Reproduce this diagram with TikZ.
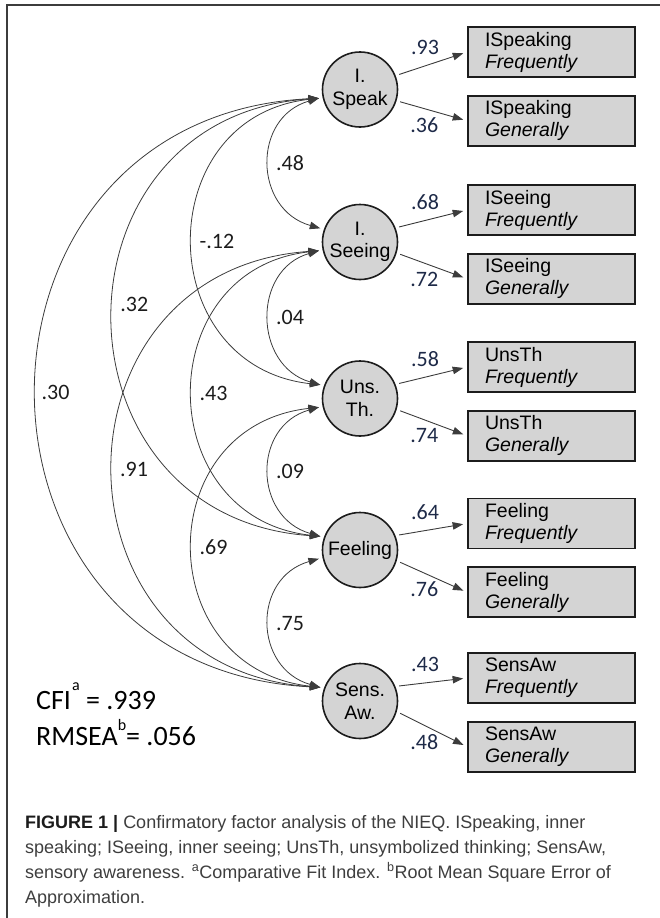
\documentclass[tikz,border=0pt]{standalone}
\usepackage{fontspec}
\setmainfont{Liberation Sans}
\newfontfamily\numfont{Carlito}
\usetikzlibrary{
  arrows.meta,
  positioning,
}
\definecolor{shade}{RGB}{212,212,212}
\definecolor{edge}{RGB}{28,28,28}
\definecolor{wire}{RGB}{60,60,60}
\definecolor{navy}{RGB}{30,42,72}
\definecolor{capgray}{RGB}{62,62,62}
\newcommand{\fitsup}[2]{\raisebox{#1}{\fontsize{16}{16}\selectfont #2}}
\tikzset{
  x = 1pt,
  y = -1pt,
  factor/.style={
    circle, draw=edge, fill=shade, line width=1.6pt, minimum size=75pt,
    inner sep=0pt, outer sep=4.5pt, align=center,
    font=\fontsize{19.5}{22.5}\selectfont,
  },
  item/.style={
    draw=edge, fill=shade, line width=1.8pt, minimum height=50pt,
    text width=133pt, inner xsep=17pt, inner ysep=0pt, align=left,
    font=\fontsize{19.5}{22}\selectfont,
  },
  >={Triangle[length=10.5pt,width=7.5pt]},
}
\begin{document}
\begin{tikzpicture}[
  load/.style={->, draw=wire, line width=0.9pt, shorten >=4pt},
  cov/.style={<->, draw=wire, line width=0.8pt},
  lo/.style={font=\numfont\fontsize{22}{22}\selectfont, text=navy},
  cv/.style={font=\numfont\fontsize{22}{22}\selectfont, text=edge},]
  \useasboundingbox (0,0) rectangle (660,918);
  %% frame
  \draw[line width=1.3pt, draw=wire] (660,5) -- (7,5) -- (7,918);
  %% factors
  \node[factor] (Speak) at (360,89.5) {\raisebox{6pt}{\begin{tabular}{@{}c@{}}I.\\[.5pt]Speak\end{tabular}}};
  \node[factor] (Seeing) at (360,242) {I.\\Seeing};
  \node[factor] (UnsTh) at (360,398.5) {Uns.\\Th.};
  \node[factor] (Feeling) at (360,550) {Feeling};
  \node[factor] (SensAw) at (360,701) {Sens.\\Aw.};
  %% items
  \node[item] (SpeakF) at (551.5,52) {ISpeaking\\\textit{Frequently}};
  \node[item, below=17pt of SpeakF] (SpeakG) {ISpeaking\\\textit{Generally}};
  \node[item] (SeeingF) at (551.5,210) {ISeeing\\\textit{Frequently}};
  \node[item, below=17pt of SeeingF] (SeeingG) {ISeeing\\\textit{Generally}};
  \node[item] (UnsThF) at (551.5,367) {UnsTh\\\textit{Frequently}};
  \node[item, below=17pt of UnsThF] (UnsThG) {UnsTh\\\textit{Generally}};
  \node[item] (FeelingF) at (551.5,523.5) {Feeling\\\textit{Frequently}};
  \node[item, below=17pt of FeelingF] (FeelingG) {Feeling\\\textit{Generally}};
  \node[item] (SensAwF) at (551.5,678) {SensAw\\\textit{Frequently}};
  \node[item, below=17pt of SensAwF] (SensAwG) {SensAw\\\textit{Generally}};
  %% loadings
  \draw[load] (Speak.21) -- node[lo, pos=.38, above=7pt] {.93} (SpeakF.west);
  \draw[load] (Speak.343) -- node[lo, pos=.36, below=5pt] {.36} (SpeakG.west);
  \draw[load] (Seeing.21) -- node[lo, pos=.38, above=7pt] {.68} (SeeingF.west);
  \draw[load] (Seeing.343) -- node[lo, pos=.36, below=5pt] {.72} (SeeingG.west);
  \draw[load] (UnsTh.21) -- node[lo, pos=.38, above=7pt] {.58} (UnsThF.west);
  \draw[load] (UnsTh.343) -- node[lo, pos=.36, below=5pt] {.74} (UnsThG.west);
  \draw[load] (Feeling.21) -- node[lo, pos=.38, above=7pt] {.64} (FeelingF.west);
  \draw[load] (Feeling.343) -- node[lo, pos=.36, below=5pt] {.76} (FeelingG.west);
  \draw[load] (SensAw.21) -- node[lo, pos=.38, above=7pt] {.43} (SensAwF.west);
  \draw[load] (SensAw.343) -- node[lo, pos=.36, below=5pt] {.48} (SensAwG.west);
  %% covariances
  \draw[cov] (Speak.192) .. controls +(-67,19) and +(-67,-19) ..
  node[cv, right=3pt] {.48} (Seeing.161);
  \draw[cov] (Speak.192) .. controls +(-169,19) and +(-169,-19) ..
  node[cv, right=3pt] {-.12} (UnsTh.161);
  \draw[cov] (Speak.192) .. controls +(-275,19) and +(-275,-19) ..
  node[cv, pos=.48, right=3pt] {.32} (Feeling.161);
  \draw[cov] (Speak.192) .. controls +(-377,19) and +(-377,-19) ..
  node[cv, right=1pt] {.30} (SensAw.161);
  %%
  \draw[cov] (Seeing.192) .. controls +(-67,19) and +(-67,-19) ..
  node[cv, right=3pt] {.04} (UnsTh.161);
  \draw[cov] (Seeing.192) .. controls +(-169,19) and +(-169,-19) ..
  node[cv, right=3pt] {.43} (Feeling.161);
  \draw[cov] (Seeing.192) .. controls +(-275,19) and +(-275,-19) ..
  node[cv, right=3pt] {.91} (SensAw.161);
  %%
  \draw[cov] (UnsTh.192) .. controls +(-67,19) and +(-67,-19) ..
  node[cv, right=3pt] {.09} (Feeling.161);
  \draw[cov] (UnsTh.192) .. controls +(-169,19) and +(-169,-19) ..
  node[cv, right=3pt] {.69} (SensAw.161);
  \draw[cov] (Feeling.192) .. controls +(-67,19) and +(-67,-19) ..
  node[cv, right=3pt] {.75} (SensAw.161);
  %% fit
  \node[anchor=base west, inner sep=0pt,
  font=\numfont\fontsize{28}{28}\selectfont]
  (CFI) at (36,709) {CFI\kern1pt\fitsup{19pt}{a} = .939};
  \node[anchor=base west, inner sep=0pt,
  font=\numfont\fontsize{28}{28}\selectfont]
  (RMSEA) at (36,745) {RMSEA\fitsup{15pt}{b}= .056};
  %% caption
  \node[anchor=north west, inner sep=0pt, align=left, text=capgray,
  font=\fontsize{18}{25}\selectfont]
  (Caption) at (25,815)
  {\textbf{\color{edge}FIGURE 1 |} Confirmatory factor analysis of the NIEQ. ISpeaking, inner\\
  speaking; ISeeing, inner seeing; UnsTh, unsymbolized thinking; SensAw,\\
  sensory awareness. \textsuperscript{a}Comparative Fit Index. \textsuperscript{b}Root Mean Square Error of\\
  Approximation.};
\end{tikzpicture}
\end{document}
